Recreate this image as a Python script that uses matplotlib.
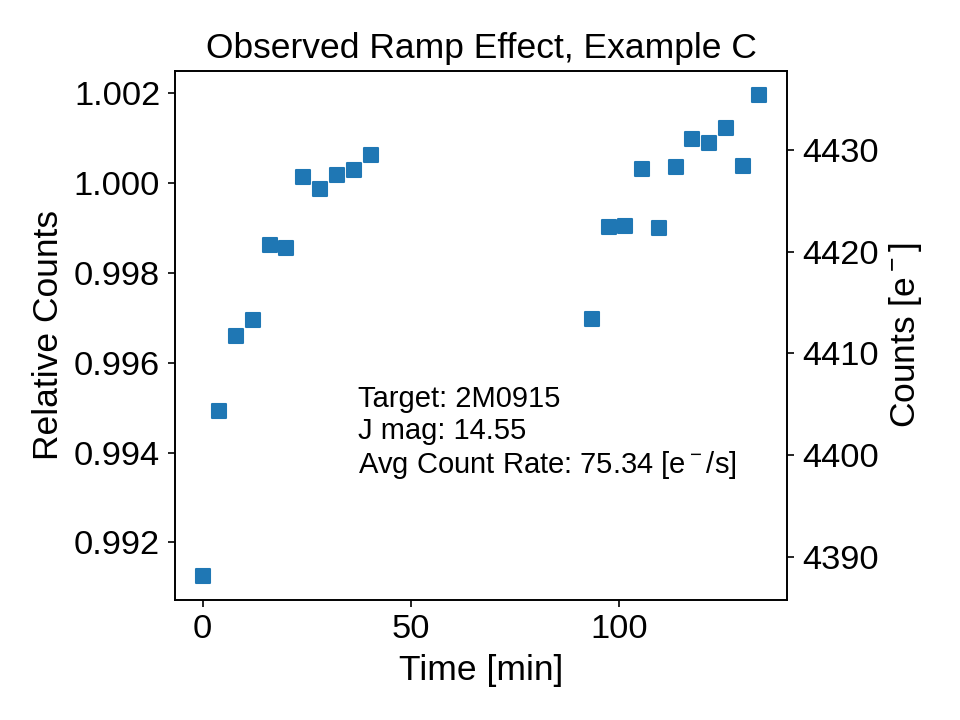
import numpy as np
import matplotlib
matplotlib.use("Agg")
from matplotlib import pyplot as plt

plt.rcParams['font.family'] = ['Liberation Sans', 'DejaVu Sans']
plt.rcParams['mathtext.fontset'] = 'custom'
plt.rcParams['mathtext.rm'] = 'Liberation Sans'
plt.rcParams['font.size'] = 16.5

# Time of each exposure [min] (two blocks of observations)
time_min = [0.0, 4.0, 8.1, 12.1, 16.1, 20.1, 24.2, 28.2, 32.2, 36.3, 40.4,
            93.4, 97.5, 101.5, 105.6, 109.6, 113.6, 117.6, 121.6, 125.7, 129.7, 133.7]

# Counts relative to the mean
rel_counts = [0.99126, 0.99493, 0.99660, 0.99694, 0.99861, 0.99854,
              1.00012, 0.99987, 1.00018, 1.00028, 1.00062,
              0.99697, 0.99901, 0.99903, 1.00031, 0.99900, 1.00034,
              1.00097, 1.00088, 1.00122, 1.00037, 1.00196]

MEAN_COUNTS = 4426.8  # e-, sets the right-hand axis
TARGET = "2M0915"
J_MAG = 14.55
COUNT_RATE = 75.34

fig, ax = plt.subplots(figsize=(6.4, 4.8), dpi=150)
fig.subplots_adjust(left=0.182, right=0.82, bottom=0.167, top=0.902)

ax.scatter(time_min, rel_counts, marker='s', s=42, color='#1f77b4', zorder=3)
ax.set_xlabel("Time [min]", fontsize=17)
ax.set_ylabel("Relative Counts", fontsize=17)
ax.set_title("Observed Ramp Effect, Example C", fontsize=17)
ax.set_xticks([0, 50, 100])

ax.text(0.30, 0.225,
        f"Target: {TARGET}\nJ mag: {J_MAG}\nAvg Count Rate: {COUNT_RATE} [e$^-$/s]",
        transform=ax.transAxes, fontsize=14, va='bottom', ha='left',
        linespacing=1.17)

# second axis showing absolute counts
ax2 = ax.twinx()
lo, hi = ax.get_ylim()
ax2.set_ylim(lo * MEAN_COUNTS, hi * MEAN_COUNTS)
ax2.set_ylabel("Counts [e$^-$]", fontsize=17)

fig.savefig("out.png", dpi=150)
